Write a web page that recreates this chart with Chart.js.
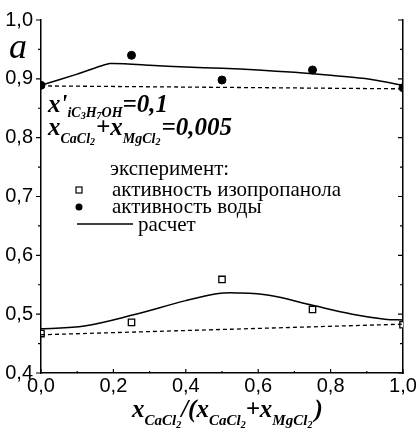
<!DOCTYPE html>
<html>
<head>
<meta charset="utf-8">
<script src="https://cdn.jsdelivr.net/npm/chart.js@4.4.1/dist/chart.umd.min.js"></script>
<style>
  html, body { margin: 0; padding: 0; background: #fff; }
  #wrap { width: 419px; height: 430px; position: relative; }
</style>
</head>
<body>
<div id="wrap"><canvas id="c" width="419" height="430"></canvas></div>
<script>
// ---- data ----
const xExp = [0, 0.25, 0.5, 0.75, 1.0];
const waterExp = [0.889, 0.940, 0.898, 0.915, 0.885];
const isoExp = [0.467, 0.486, 0.559, 0.508, 0.482];

const xWaterCalc = [0, 0.1, 0.19, 0.3, 0.4, 0.5, 0.6, 0.7, 0.8, 0.9, 1.0];
const waterCalc = [0.889, 0.908, 0.926, 0.923, 0.920, 0.918, 0.915, 0.911, 0.906, 0.900, 0.889];

const xIsoCalc = [0, 0.12, 0.25, 0.4, 0.49, 0.54, 0.63, 0.75, 0.86, 0.95, 1.0];
const isoCalc = [0.475, 0.480, 0.498, 0.523, 0.535, 0.536, 0.532, 0.515, 0.500, 0.4915, 0.490];

const xIdeal = [0, 1];
const waterIdeal = [0.888, 0.883];
const isoIdeal = [0.465, 0.483];

const xTicks = [0, 0.2, 0.4, 0.6, 0.8, 1.0];
const xTickLabels = ['0,0', '0,2', '0,4', '0,6', '0,8', '1,0'];
const yTicks = [0.4, 0.5, 0.6, 0.7, 0.8, 0.9, 1.0];
const yTickLabels = ['0,4', '0,5', '0,6', '0,7', '0,8', '0,9', '1,0'];

const legendTitle = 'эксперимент:';
const legendIso = 'активность изопропанола';
const legendWater = 'активность воды';
const legendCalc = 'расчет';

const pts = (xs, ys) => xs.map((x, i) => ({ x: x, y: ys[i] }));

const SERIF = '"Liberation Serif", "DejaVu Serif", serif';
const SANS = '"Liberation Sans", Arial, sans-serif';

function drawRich(ctx, x, y, segs) {
  for (const s of segs) {
    ctx.font = s.f;
    ctx.fillText(s.t, x, y + (s.dy || 0));
    x += ctx.measureText(s.t).width + (s.dx || 0);
  }
  return x;
}

const decor = {
  id: 'decor',
  afterDraw(chart) {
    const ctx = chart.ctx;
    const xs = chart.scales.x, ys = chart.scales.y;
    const area = chart.chartArea;
    ctx.save();
    ctx.strokeStyle = '#000';
    ctx.fillStyle = '#000';
    ctx.lineWidth = 1.2;
    // tick marks
    ctx.beginPath();
    for (let v = 0.4; v <= 1.0001; v += 0.05) {
      const py = ys.getPixelForValue(v);
      const major = Math.abs(v * 10 - Math.round(v * 10)) < 0.01;
      const L = major ? 5 : 3;
      ctx.moveTo(area.left, py); ctx.lineTo(area.left - L, py);
      ctx.moveTo(area.right, py); ctx.lineTo(area.right - L, py);
    }
    for (let v = 0; v <= 1.0001; v += 0.1) {
      const px = xs.getPixelForValue(v);
      const major = Math.round(v * 10) % 2 === 0;
      const L = major ? 4 : 2;
      ctx.moveTo(px, area.bottom); ctx.lineTo(px, area.bottom - L);
    }
    ctx.stroke();

    ctx.textBaseline = 'alphabetic';
    ctx.textAlign = 'left';
    // axis symbol
    ctx.font = 'italic 36px ' + SERIF;
    ctx.fillText('a', 9, 58);

    const B = 'bold italic 25px ' + SERIF;
    const S = 'bold italic 14px ' + SERIF;
    const SS = 'bold italic 10px ' + SERIF;
    drawRich(ctx, 48, 112, [
      { t: "x'", f: B },
      { t: 'iC', f: S, dy: 5 },
      { t: '3', f: SS, dy: 7 },
      { t: 'H', f: S, dy: 5 },
      { t: '7', f: SS, dy: 7 },
      { t: 'OH', f: S, dy: 5 },
      { t: '=0,1', f: B }
    ]);
    drawRich(ctx, 48, 135, [
      { t: 'x', f: B },
      { t: 'CaCl', f: S, dy: 8 },
      { t: '2', f: SS, dy: 10, dx: 1 },
      { t: '+', f: B },
      { t: 'x', f: B },
      { t: 'MgCl', f: S, dy: 8 },
      { t: '2', f: SS, dy: 10, dx: 1 },
      { t: '=0,005', f: B }
    ]);

    // legend
    ctx.font = '21px ' + SERIF;
    ctx.fillText(legendTitle, 110, 175);
    ctx.fillText(legendIso, 112, 196);
    ctx.fillText(legendWater, 112, 213);
    ctx.fillText(legendCalc, 138, 231);
    ctx.lineWidth = 1.2;
    ctx.strokeRect(76, 187, 6, 6);
    ctx.beginPath(); ctx.arc(79, 207, 3.5, 0, Math.PI * 2); ctx.fill();
    ctx.lineWidth = 1.5;
    ctx.beginPath(); ctx.moveTo(77, 224); ctx.lineTo(133, 224); ctx.stroke();

    // x-axis title
    const XB = 'bold italic 25px ' + SERIF;
    const XS = 'bold italic 15px ' + SERIF;
    const XSS = 'bold italic 10px ' + SERIF;
    drawRich(ctx, 132, 417, [
      { t: 'x', f: XB },
      { t: 'CaCl', f: XS, dy: 8 },
      { t: '2', f: XSS, dy: 11 },
      { t: '/(', f: XB },
      { t: 'x', f: XB },
      { t: 'CaCl', f: XS, dy: 8 },
      { t: '2', f: XSS, dy: 11 },
      { t: '+', f: XB },
      { t: 'x', f: XB },
      { t: 'MgCl', f: XS, dy: 8 },
      { t: '2', f: XSS, dy: 11, dx: 2 },
      { t: ')', f: XB }
    ]);
    ctx.restore();
  }
};

const tickFont = { family: SANS, size: 20 };

new Chart(document.getElementById('c'), {
  type: 'scatter',
  data: {
    datasets: [
      { data: pts(xIdeal, waterIdeal), showLine: true, borderColor: '#000', borderWidth: 1.3, borderDash: [4, 3], pointRadius: 0 },
      { data: pts(xIdeal, isoIdeal), showLine: true, borderColor: '#000', borderWidth: 1.3, borderDash: [4, 3], pointRadius: 0 },
      { data: pts(xWaterCalc, waterCalc), showLine: true, borderColor: '#000', borderWidth: 1.5, tension: 0.15, pointRadius: 0 },
      { data: pts(xIsoCalc, isoCalc), showLine: true, borderColor: '#000', borderWidth: 1.5, tension: 0.35, pointRadius: 0 },
      { data: pts(xExp, waterExp), showLine: false, pointStyle: 'circle', pointRadius: 4, backgroundColor: '#000', borderColor: '#000', borderWidth: 1 },
      { data: pts(xExp, isoExp), showLine: false, pointStyle: 'rect', pointRadius: 4.5, backgroundColor: '#fff', borderColor: '#000', borderWidth: 1.3 }
    ]
  },
  options: {
    responsive: false,
    animation: false,
    events: [],
    layout: { padding: { top: 15, left: 0, right: 0, bottom: 0 } },
    plugins: { legend: { display: false }, tooltip: { enabled: false } },
    scales: {
      x: {
        type: 'linear', position: 'bottom', min: 0, max: 1,
        afterBuildTicks: s => { s.ticks = xTicks.map(v => ({ value: v })); },
        ticks: { callback: (v, i) => xTickLabels[i], font: tickFont, color: '#000', padding: 1, maxRotation: 0, autoSkip: false },
        grid: { display: false, drawTicks: false },
        border: { display: true, color: '#000', width: 1.5 },
        afterFit: s => { s.height = 57; }
      },
      y: {
        type: 'linear', position: 'left', min: 0.4, max: 1.0,
        afterBuildTicks: s => { s.ticks = yTicks.map(v => ({ value: v })); },
        ticks: { callback: (v, i) => yTickLabels[i], font: tickFont, color: '#000', padding: 8, autoSkip: false },
        grid: { display: false, drawTicks: false },
        border: { display: true, color: '#000', width: 1.5 },
        afterFit: s => { s.width = 41; }
      },
      y2: {
        type: 'linear', position: 'right', min: 0.4, max: 1.0,
        ticks: { display: false },
        grid: { display: false, drawTicks: false },
        border: { display: true, color: '#000', width: 1.5 },
        afterFit: s => { s.width = 16; }
      }
    }
  },
  plugins: [decor]
});
</script>
</body>
</html>
